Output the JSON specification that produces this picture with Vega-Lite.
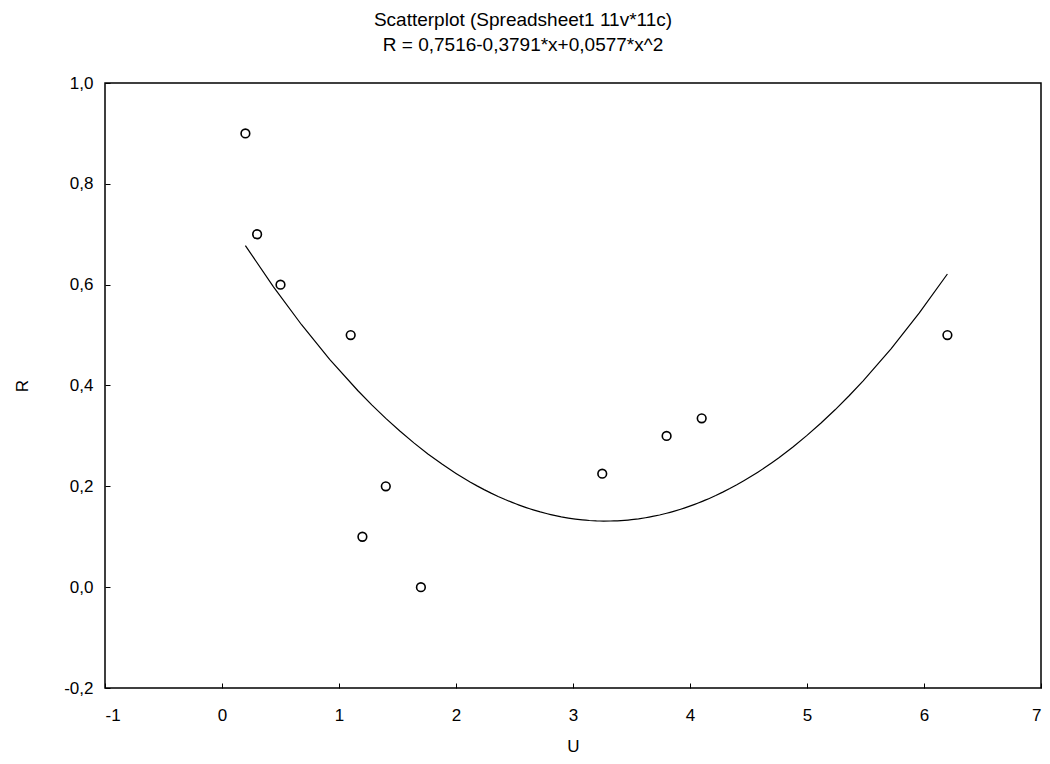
{
  "$schema": "https://vega.github.io/schema/vega-lite/v6.json",
  "autosize": {"type": "none"},
  "padding": {"left": 105, "top": 83, "right": 9, "bottom": 76},
  "width": 936,
  "height": 605,
  "background": "white",
  "title": {
    "text": ["Scatterplot (Spreadsheet1 11v*11c)", "R = 0,7516-0,3791*x+0,0577*x^2"],
    "font": "Liberation Sans",
    "fontSize": 19,
    "fontWeight": "normal",
    "color": "black",
    "lineHeight": 25,
    "anchor": "middle",
    "dx": -50,
    "offset": 19
  },
  "data": {
    "values": [
      {"U": 0.2, "R": 0.9},
      {"U": 0.3, "R": 0.7},
      {"U": 0.5, "R": 0.6},
      {"U": 1.1, "R": 0.5},
      {"U": 1.2, "R": 0.1},
      {"U": 1.4, "R": 0.2},
      {"U": 1.7, "R": 0.0},
      {"U": 3.25, "R": 0.225},
      {"U": 3.8, "R": 0.3},
      {"U": 4.1, "R": 0.335},
      {"U": 6.2, "R": 0.5}
    ]
  },
  "encoding": {
    "x": {
      "field": "U", "type": "quantitative",
      "scale": {"domain": [-1, 7], "nice": false, "zero": false},
      "axis": {
        "title": "U", "values": [-1, 0, 1, 2, 3, 4, 5, 6, 7],
        "grid": false, "domain": false, "tickSize": -5, "tickColor": "black",
        "labelPadding": 24, "labelFont": "Liberation Sans", "labelFontSize": 17, "labelColor": "black",
        "titleFont": "Liberation Sans", "titleFontSize": 17, "titleFontWeight": "normal", "titleColor": "black",
        "titlePadding": 15,
        "labelExpr": "replace(format(datum.value, 'd'), '\u2212', '-')"
      }
    },
    "y": {
      "field": "R", "type": "quantitative",
      "scale": {"domain": [-0.2, 1.0], "nice": false, "zero": false},
      "axis": {
        "title": "R", "values": [-0.2, 0, 0.2, 0.4, 0.6, 0.8, 1.0],
        "grid": false, "domain": false, "tickSize": -5, "tickColor": "black",
        "labelPadding": 17, "labelFont": "Liberation Sans", "labelFontSize": 17, "labelColor": "black",
        "titleFont": "Liberation Sans", "titleFontSize": 17, "titleFontWeight": "normal", "titleColor": "black",
        "titlePadding": 32,
        "labelExpr": "replace(replace(format(datum.value, '.1f'), '.', ','), '\u2212', '-')"
      }
    }
  },
  "layer": [
    {
      "transform": [
        {"regression": "R", "on": "U", "method": "poly", "order": 2, "extent": [0.2, 6.2]}
      ],
      "mark": {"type": "line", "color": "black", "strokeWidth": 1.2}
    },
    {
      "mark": {"type": "point", "shape": "circle", "filled": false, "stroke": "black", "strokeWidth": 1.6, "size": 75, "opacity": 1}
    }
  ],
  "config": {
    "view": {"stroke": "black", "strokeWidth": 1.5}
  }
}
